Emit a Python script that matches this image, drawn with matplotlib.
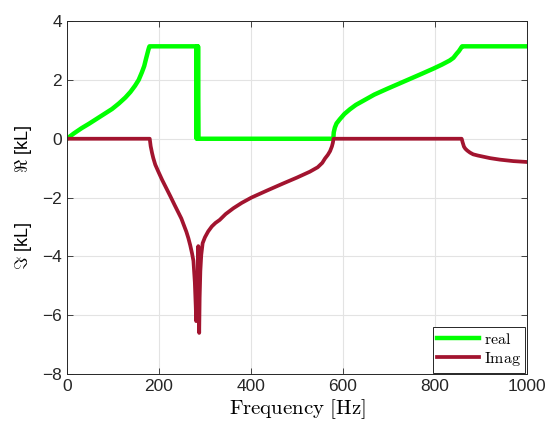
import numpy as np
import matplotlib
matplotlib.use("Agg")
import matplotlib.pyplot as plt

PI = np.pi

# real part of kL
freq_re = [0, 15, 32, 48, 62, 80, 98, 113, 127, 138, 148, 156, 163, 168, 172,
           175, 177, 178.5, 179.5, 200, 240, 281,
           282, 283, 284, 285, 286, 300, 400, 500, 579, 580, 582.4, 586, 593,
           603, 615, 628, 644, 668, 695, 720, 745, 770, 796, 815, 832, 840,
           847, 852, 855, 857.5, 859, 900, 1000]
kl_re = [0, 0.18, 0.36, 0.51, 0.65, 0.83, 1.01, 1.20, 1.40, 1.59, 1.80, 2.00,
         2.26, 2.47, 2.72, 2.90, 3.02, 3.10, PI, PI, PI, PI,
         0, PI, 0, PI, 0, 0, 0, 0, 0, 0.22, 0.38, 0.52, 0.66,
         0.84, 1.00, 1.15, 1.29, 1.50, 1.69, 1.86, 2.03, 2.20, 2.38, 2.52, 2.66, 2.75,
         2.89, 2.98, 3.05, 3.11, PI, PI, PI]

# imaginary part of kL
freq_im = [0, 180, 182, 185, 187.6, 192, 198.5, 207, 216, 225, 234, 242, 248.7,
           254, 259.6, 264, 268, 272, 275, 278, 280, 281, 282.5, 284, 285.5,
           286.5, 287.5, 288.5, 290, 292, 295, 300, 307, 315, 323, 332, 345, 362,
           380, 401, 435, 470, 500, 528, 545, 555, 561, 567, 572, 576, 578, 579.5,
           700, 858, 860, 863, 866, 870, 876, 883, 893, 905, 920, 941, 970, 1000]
kl_im = [0, 0, -0.25, -0.48, -0.65, -0.88, -1.11, -1.40, -1.68, -1.96, -2.25,
         -2.50, -2.71, -2.93, -3.16, -3.38, -3.62, -3.90, -4.15, -4.87, -5.7, -6.2,
         -5.0, -6.1, -3.65, -5.5, -6.6, -5.4, -4.5, -3.95, -3.55, -3.35, -3.15,
         -2.98, -2.86, -2.76, -2.56, -2.36, -2.18, -2.0, -1.76, -1.52, -1.32,
         -1.12, -0.97, -0.82, -0.67, -0.55, -0.42, -0.26, -0.14, 0, 0, 0, -0.12,
         -0.27, -0.34, -0.40, -0.47, -0.53, -0.57, -0.61, -0.66, -0.71, -0.76, -0.79]

plt.rcParams['font.family'] = ['Liberation Sans', 'DejaVu Sans']
plt.rcParams['mathtext.fontset'] = 'cm'

fig = plt.figure(figsize=(5.53, 4.30), dpi=100)
ax = fig.add_axes([0.121, 0.130, 0.832, 0.821])

ax.plot(freq_re, kl_re, color='#00ff00', lw=3.2, label=r'$\mathrm{real}$')
ax.plot(freq_im, kl_im, color='#a2142f', lw=2.7, label=r'$\mathrm{Imag}$')

ax.set_xlim(0, 1000)
ax.set_ylim(-8, 4)
ax.set_xticks([0, 200, 400, 600, 800, 1000])
ax.set_yticks([-8, -6, -4, -2, 0, 2, 4])
ax.grid(True, color='#e3e3e3', lw=0.8)
ax.set_axisbelow(True)
ax.tick_params(direction='in', top=True, right=True, labelsize=12.5,
               length=4, width=0.6, colors='#262626')
for s in ax.spines.values():
    s.set_color('#262626')
    s.set_linewidth(0.7)

ax.set_xlabel(r'$\mathrm{Frequency\ [Hz]}$', fontsize=15, labelpad=2)
ax.set_ylabel(r'$\Im$ [kL]          $\Re$ [kL]', fontsize=13, labelpad=6)

leg = ax.legend(loc='lower right', fontsize=11.5, fancybox=False,
                borderaxespad=0.1, handlelength=2.6, handletextpad=0.3,
                borderpad=0.3, labelspacing=0.2)
leg.get_frame().set_edgecolor('#262626')
leg.get_frame().set_linewidth(0.7)
leg.get_frame().set_alpha(1)

fig.savefig('out.png', dpi=100)
